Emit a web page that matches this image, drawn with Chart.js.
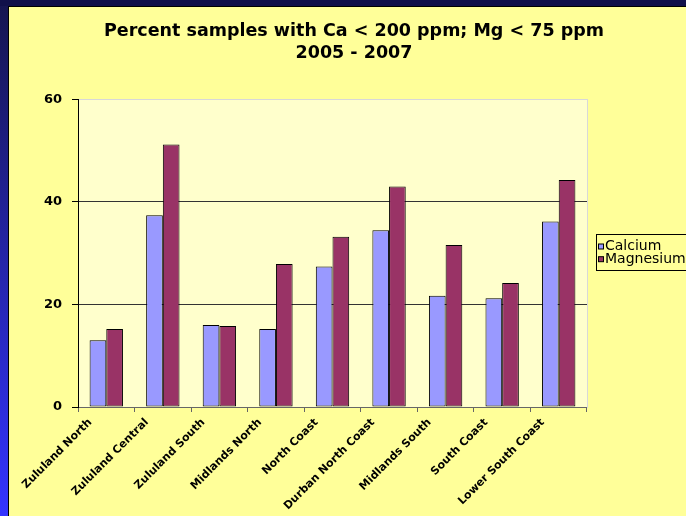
<!DOCTYPE html>
<html>
<head>
<meta charset="utf-8">
<script src="https://cdn.jsdelivr.net/npm/chart.js@4/dist/chart.umd.min.js"></script>
<style>
  body { margin: 0; width: 686px; height: 516px; overflow: hidden; position: relative;
         background: linear-gradient(to bottom, #15154f, #3434ff); }
  #topbar { position: absolute; left: 0; top: 0; width: 686px; height: 6px; background: #10104a; }
  #panel { position: absolute; left: 8px; top: 6px; width: 677px; height: 509px;
           border-left: 1px solid #000; border-top: 1px solid #000; background: #FFFF99; }
  canvas { display: block; }
</style>
</head>
<body>
<div id="topbar"></div>
<div id="panel"><canvas id="myChart" width="677" height="509"></canvas></div>
<script>
// chart data
var titleLines = ['Percent samples with Ca < 200 ppm; Mg < 75 ppm', '2005 - 2007'];
var categories = ['Zululand North', 'Zululand Central', 'Zululand South', 'Midlands North',
  'North Coast', 'Durban North Coast', 'Midlands South', 'South Coast', 'Lower South Coast'];
var calcium = [13.0, 37.4, 16.0, 15.2, 27.4, 34.5, 21.7, 21.2, 36.2];
var magnesium = [15.2, 51.2, 15.8, 27.9, 33.2, 43.0, 31.6, 24.2, 44.3];
var yTicks = [0, 20, 40, 60];

// pale plot area behind the bars
var plotBackground = {
  id: 'plotBackground',
  beforeDraw: function (chart) {
    var a = chart.chartArea;
    var ctx = chart.ctx;
    ctx.save();
    ctx.fillStyle = '#FFFFCC';
    ctx.fillRect(a.left, a.top, a.right - a.left, a.bottom - a.top);
    ctx.restore();
  }
};

// boxed legend to the right of the plot, like the old Excel one
var boxLegend = {
  id: 'boxLegend',
  afterDraw: function (chart) {
    var ctx = chart.ctx;
    var x = chart.chartArea.right + 9;
    var y = 227;
    ctx.save();
    ctx.strokeStyle = '#000';
    ctx.lineWidth = 1;
    ctx.strokeRect(x + 0.5, y + 0.5, 150, 36);
    ctx.font = '14px "DejaVu Sans"';
    ctx.textBaseline = 'middle';
    chart.data.datasets.forEach(function (ds, i) {
      var rowY = y + 12.5 + i * 12.7;
      ctx.fillStyle = ds.backgroundColor;
      ctx.fillRect(x + 2.5, rowY - 2.5, 5, 5);
      ctx.strokeRect(x + 2.5, rowY - 2.5, 5, 5);
      ctx.fillStyle = '#000';
      ctx.fillText(ds.label, x + 9, rowY);
    });
    ctx.restore();
  }
};

var ctx = document.getElementById('myChart').getContext('2d');
var myChart = new Chart(ctx, {
  type: 'bar',
  data: {
    labels: categories,
    datasets: [
      { label: 'Calcium', data: calcium, backgroundColor: '#9999FF', borderColor: '#000',
        borderWidth: 1, borderSkipped: false },
      { label: 'Magnesium', data: magnesium, backgroundColor: '#993366', borderColor: '#000',
        borderWidth: 1, borderSkipped: false }
    ]
  },
  options: {
    responsive: false,
    animation: false,
    categoryPercentage: 0.59,
    barPercentage: 1.0,
    layout: { padding: { left: 13, right: 0, top: 0, bottom: 0 } },
    plugins: {
      legend: { display: false },
      tooltip: { enabled: false },
      title: {
        display: true,
        text: titleLines,
        color: '#000',
        font: { family: 'DejaVu Sans', size: 17.5, weight: 'bold', lineHeight: 1.27 },
        padding: { top: 13, bottom: 35 }
      }
    },
    scales: {
      x: {
        grid: { display: true, drawOnChartArea: false, tickLength: 5, color: '#666' },
        border: { color: '#666' },
        ticks: {
          autoSkip: false, minRotation: 45, maxRotation: 45, padding: 4, labelOffset: -16,
          color: '#000', font: { family: 'DejaVu Sans', size: 11, weight: 'bold' }
        },
        afterFit: function (scale) { scale.height = 109; }
      },
      y: {
        min: 0,
        max: 60,
        afterBuildTicks: function (scale) {
          scale.ticks = yTicks.map(function (v) { return { value: v }; });
        },
        grid: {
          color: function (c) { return c.tick.value === 60 ? '#d8d8d8' : '#333'; },
          tickColor: '#000',
          tickLength: 6
        },
        border: { color: '#000' },
        ticks: { padding: 10, color: '#000', font: { family: 'DejaVu Sans', size: 13, weight: 'bold' } },
        afterFit: function (scale) { scale.width = 56; }
      },
      // empty axis on the right that keeps room for the legend
      r: {
        position: 'right',
        grid: { display: false },
        ticks: { display: false },
        border: { display: true, color: '#d8d8d8' },
        afterFit: function (scale) { scale.width = 99; }
      }
    }
  },
  plugins: [plotBackground, boxLegend]
});
</script>
</body>
</html>
